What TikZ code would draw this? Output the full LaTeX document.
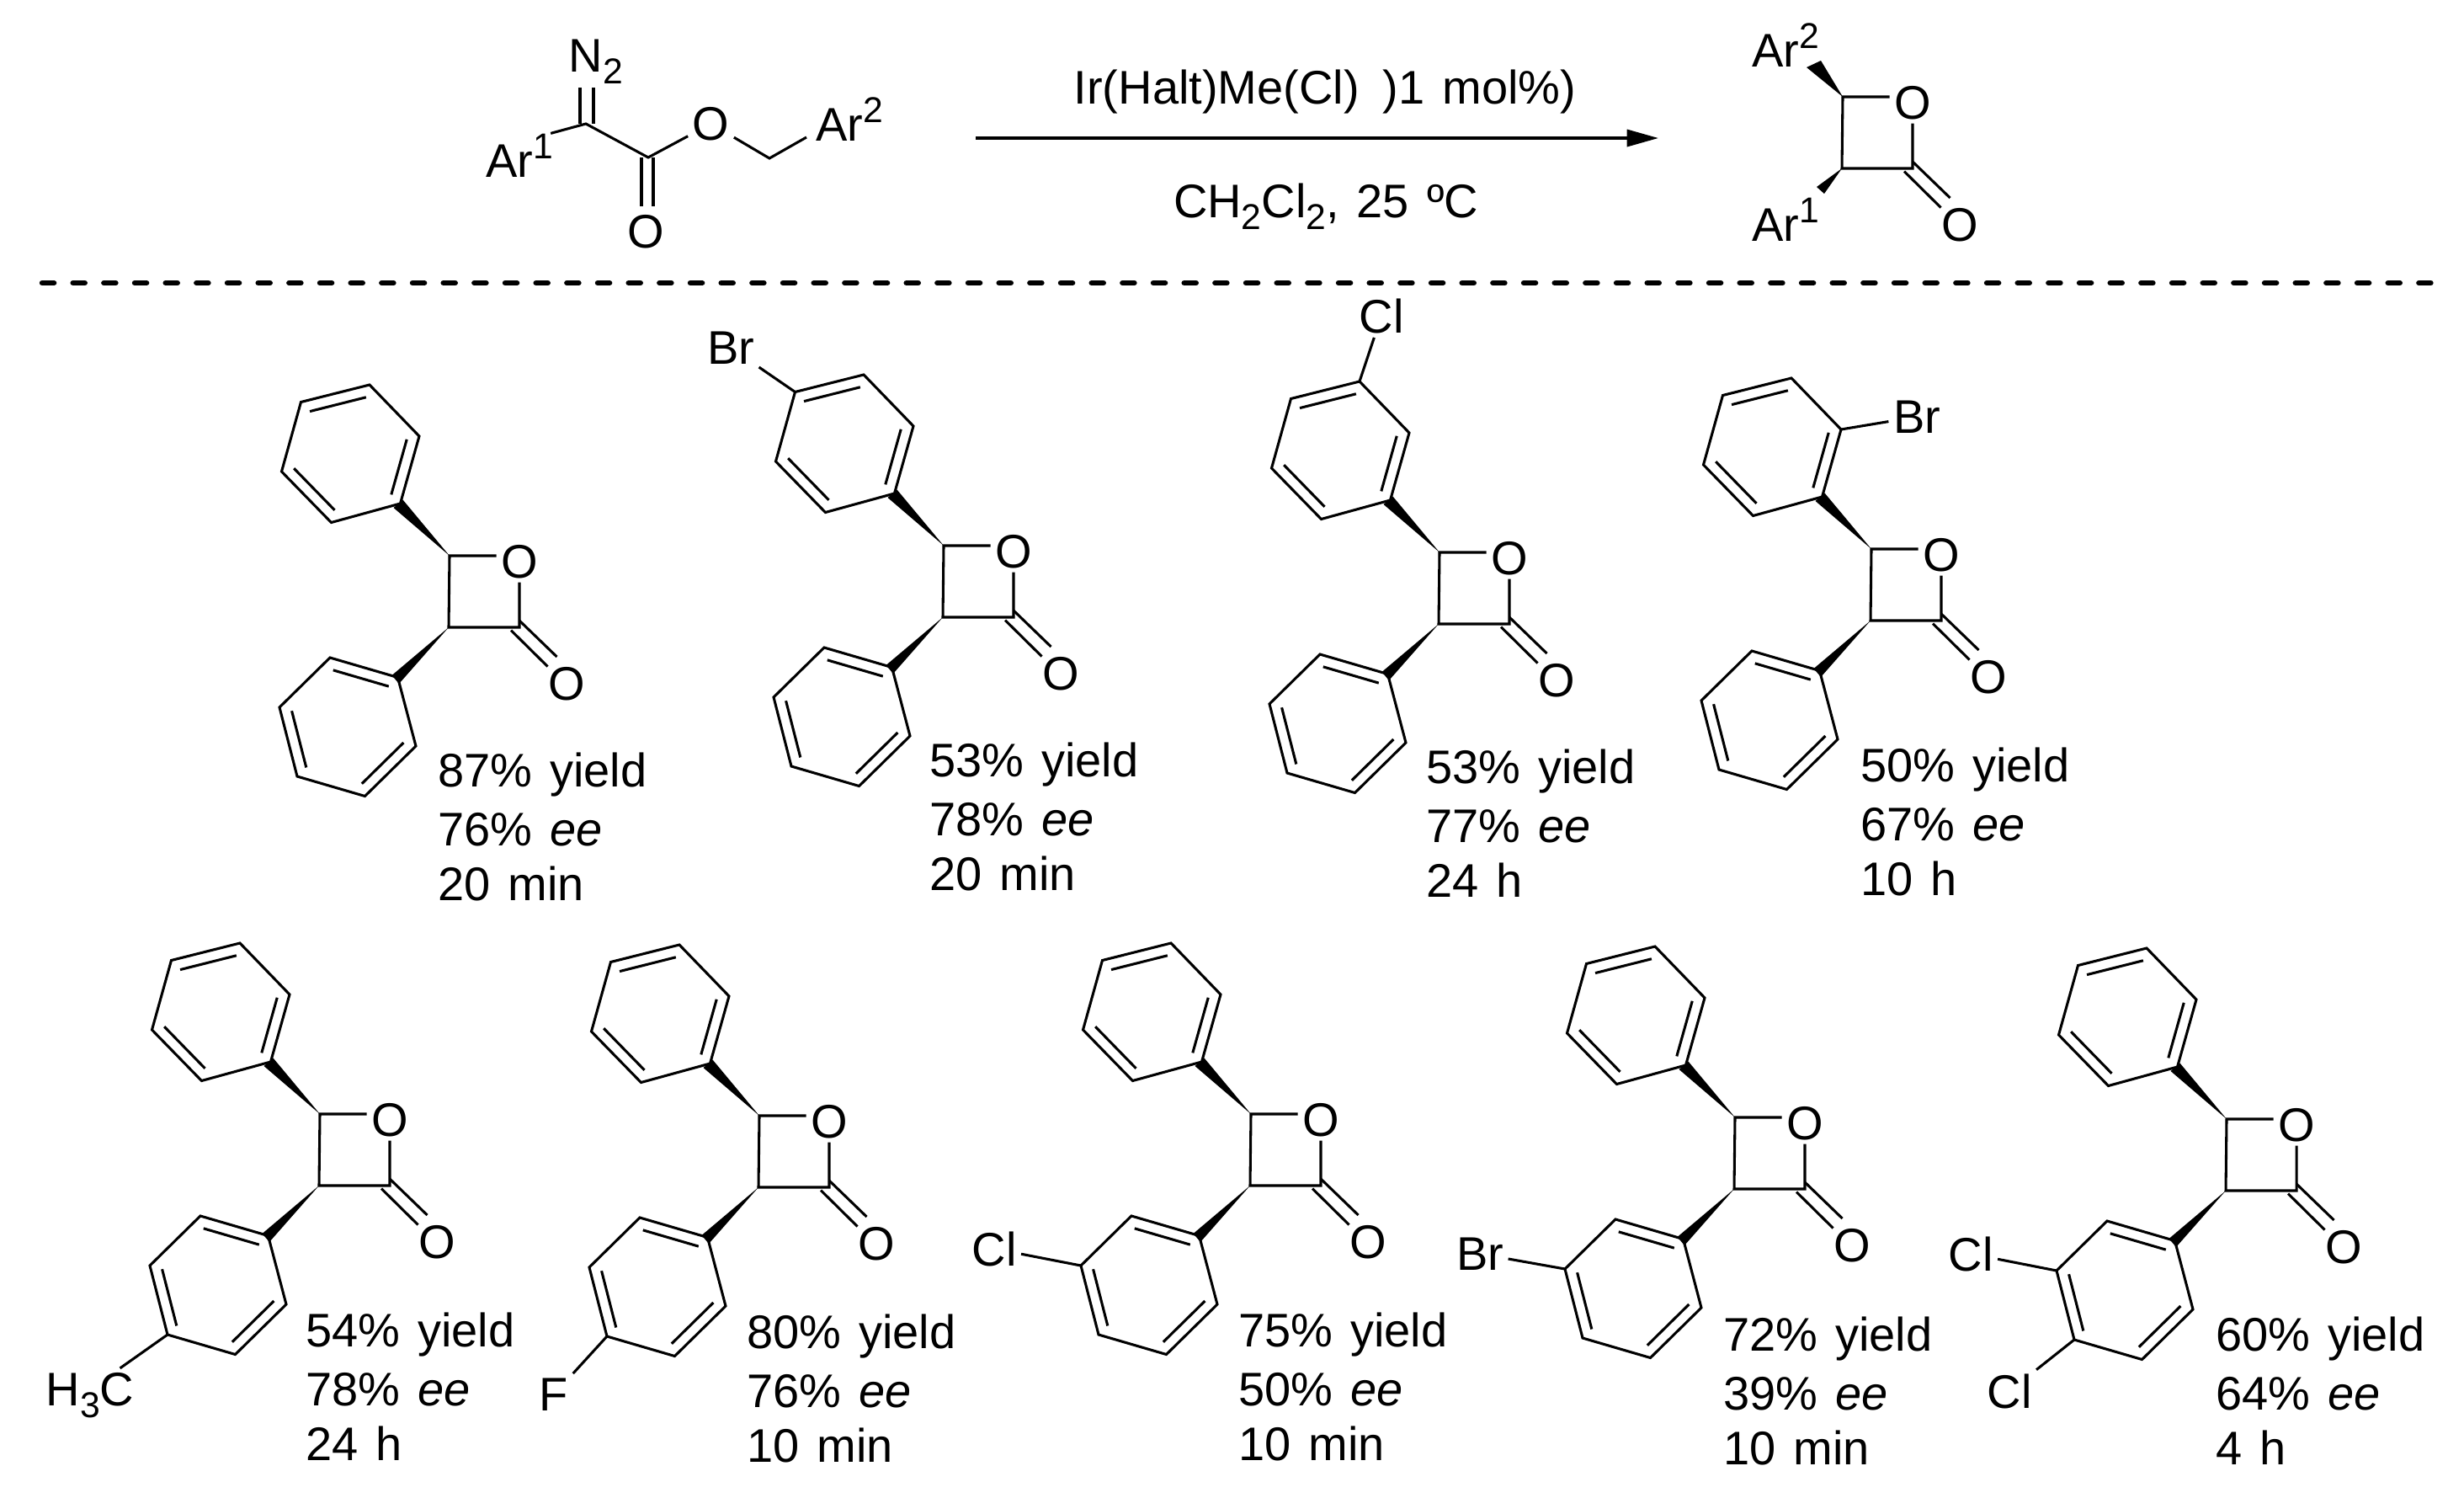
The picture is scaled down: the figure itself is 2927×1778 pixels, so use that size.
\documentclass[tikz,border=0pt]{standalone}
\usepackage{fontspec}
\setmainfont[WordSpace=1.35]{Liberation Sans}
\usetikzlibrary{arrows.meta, calc}

\newcommand{\atomfont}{\fontsize{42}{48}\selectfont}
\newcommand{\upnum}[1]{\raisebox{16.5pt}{\fontsize{32}{32}\selectfont #1}}
\newcommand{\lownum}[1]{\raisebox{-10.5pt}{\fontsize{32}{32}\selectfont #1}}

\tikzset{
  bond/.style={line width=2.3pt},
  atom/.style={inner sep=4pt, text depth=0pt, font=\atomfont},
  plain/.style={inner sep=0pt, font=\atomfont, anchor=base west},
  dashline/.style={line width=4.8pt, line cap=round, dash pattern=on 10.6pt off 16.9pt}
}

% inner line of an aromatic double bond
\newcommand{\innerbond}[3]{\draw[bond] ($(#1)!.18!(#3)$) -- ($(#2)!.18!(#3)$);}

% four-membered ring with its C=O
\newcommand{\lactcore}[3]{
\begin{scope}[shift={(#2,#3)}]
\coordinate (#1c4) at (0,0);
\coordinate (#1c3) at (-1,85);
\coordinate (#1c2) at (83,85);
\node[atom] (#1o) at (83,6.5) {O};
\node[atom] (#1ox) at (139.7,151.8) {O};
\coordinate (#1da) at (127.5,120);
\coordinate (#1db) at (116.5,131.5);
\draw[bond] (#1o.west |- #1c4) -- (#1c4) -- (#1c3) -- (#1c2) -- (#1o.south);
\draw[bond] (83,77) -- (#1da);
\draw[bond] (73,88.5) -- (#1db);
\end{scope}
}

% full product: ring plus the two phenyl groups
\newcommand{\lactone}[3]{
\lactcore{#1}{#2}{#3}
\begin{scope}[shift={(#2,#3)}]
%top ring
\coordinate (#1t1) at (-58.5,-62);
\coordinate (#1t2) at (-36,-142);
\coordinate (#1t3) at (-95,-203);
\coordinate (#1t4) at (-176.5,-182.5);
\coordinate (#1t5) at (-199.5,-100);
\coordinate (#1t6) at (-140.5,-39.5);
\coordinate (#1tc) at (-118,-121);
\draw[bond] (#1t1) -- (#1t2) -- (#1t3) -- (#1t4) -- (#1t5) -- (#1t6) -- cycle;
\innerbond{#1t1}{#1t2}{#1tc}
\innerbond{#1t3}{#1t4}{#1tc}
\innerbond{#1t5}{#1t6}{#1tc}
\fill (#1c4) -- (-66.5,-57) -- (-55.5,-66.5) -- cycle;
%bottom ring
\coordinate (#1b1) at (-61.5,144.5);
\coordinate (#1b2) at (-40,226);
\coordinate (#1b3) at (-100.5,285.5);
\coordinate (#1b4) at (-181,262);
\coordinate (#1b5) at (-202,180);
\coordinate (#1b6) at (-142,121);
\coordinate (#1bc) at (-121,203.5);
\draw[bond] (#1b1) -- (#1b2) -- (#1b3) -- (#1b4) -- (#1b5) -- (#1b6) -- cycle;
\innerbond{#1b1}{#1b6}{#1bc}
\innerbond{#1b5}{#1b4}{#1bc}
\innerbond{#1b3}{#1b2}{#1bc}
\fill (#1c3) -- (-68.5,142) -- (-60,152) -- cycle;
\end{scope}
}

% yield, ee and time under a product
\newcommand{\results}[6]{
\node[plain] (#1yield) at (#2,#3) {#4};
\node[plain] (#1ee) at (#2,#3+70.5) {#5};
\node[plain] (#1time) at (#2,#3+135.5) {#6};
}

\begin{document}
\begin{tikzpicture}[x=0.75pt,y=0.75pt,yscale=-1,xscale=1]
\useasboundingbox (0,0) rectangle (2927,1778);

%Diazo ester
\coordinate (dzc) at (696,147);
\coordinate (dzco) at (770,187);
\coordinate (dzch) at (914,188);
\node[atom] (dzn) at (708,66) {N\lownum{2}};
\node[plain] (dzar) at (577,210) {Ar\upnum{1}};
\node[atom] (dzoa) at (844.5,147) {O};
\node[atom] (dzob) at (767,275) {O};
\node[plain] (dzarb) at (969,167) {Ar\upnum{2}};
\coordinate (dzend) at (958,163);
\draw[bond] (dzar.35) -- (dzc) -- (dzco) -- (dzoa) -- (dzch) -- (dzend);
\draw[bond] (689,104) -- (689,147);
\draw[bond] (705,104) -- (705,147);
\draw[bond] (762,187) -- (762,245);
\draw[bond] (776,187) -- (776,245);

%Arrow
\coordinate (arra) at (1159,164);
\coordinate (arrb) at (1970,164);
\draw[line width=2.6pt, -{Triangle[length=28pt,width=15pt]}] (arra) -- (arrb);
\node[plain, anchor=base] (catal) at (1574,123) {Ir(Halt)Me(Cl)\hspace{.5em})1 mol\%)};
\node[plain, anchor=base] (cond) at (1575,258) {CH\lownum{2}Cl\lownum{2}, 25 ºC};

%Product
\lactcore{pr}{2189}{115}
\node[plain] (prarb) at (2081,79) {Ar\upnum{2}};
\node[plain] (prara) at (2081,286) {Ar\upnum{1}};
\fill (prc4) -- (2146,80) -- (2163,72) -- cycle;
\fill (prc3) -- (2158,222) -- (2167,230) -- cycle;

%Dashed line
\coordinate (dasha) at (50,336);
\coordinate (dashb) at (2904,336);
\draw[dashline] (dasha) -- (dashb);

%First row
\lactone{sa}{534}{660}
\results{sa}{520}{934}{87\% yield}{76\% \textit{ee}}{20 min}

\lactone{sb}{1121}{648}
\node[atom] (sbbr) at (868,413) {Br};
\draw[bond] (sbt4) -- (sbbr);
\results{sb}{1104}{922}{53\% yield}{78\% \textit{ee}}{20 min}

\lactone{sc}{1710}{656}
\node[atom] (sccl) at (1641,375) {Cl};
\draw[bond] (sct3) -- (sccl);
\results{sc}{1694}{930}{53\% yield}{77\% \textit{ee}}{24 h}

\lactone{sd}{2223}{652}
\node[atom] (sdbr) at (2277,495) {Br};
\draw[bond] (sdt2) -- (sdbr);
\results{sd}{2210}{928}{50\% yield}{67\% \textit{ee}}{10 h}

%Second row
\lactone{se}{380}{1323}
\node[atom] (seme) at (107,1650) {H\lownum{3}C};
\draw[bond] (seb4) -- (seme);
\results{se}{363}{1599}{54\% yield}{78\% \textit{ee}}{24 h}

\lactone{sf}{902}{1325}
\node[atom] (sff) at (658,1656) {F};
\draw[bond] (sfb4) -- (sff);
\results{sf}{887}{1601}{80\% yield}{76\% \textit{ee}}{10 min}

\lactone{sg}{1486}{1323}
\node[atom] (sgcl) at (1181,1483) {Cl};
\draw[bond] (sgb5) -- (sgcl);
\results{sg}{1471}{1599}{75\% yield}{50\% \textit{ee}}{10 min}

\lactone{sh}{2061}{1327}
\node[atom] (shbr) at (1758,1489) {Br};
\draw[bond] (shb5) -- (shbr);
\results{sh}{2047}{1604}{72\% yield}{39\% \textit{ee}}{10 min}

\lactone{si}{2645}{1329}
\node[atom] (sicla) at (2341,1489) {Cl};
\node[atom] (siclb) at (2387,1652) {Cl};
\draw[bond] (sib5) -- (sicla);
\draw[bond] (sib4) -- (siclb);
\results{si}{2632}{1604}{60\% yield}{64\% \textit{ee}}{4 h}

\end{tikzpicture}
\end{document}
